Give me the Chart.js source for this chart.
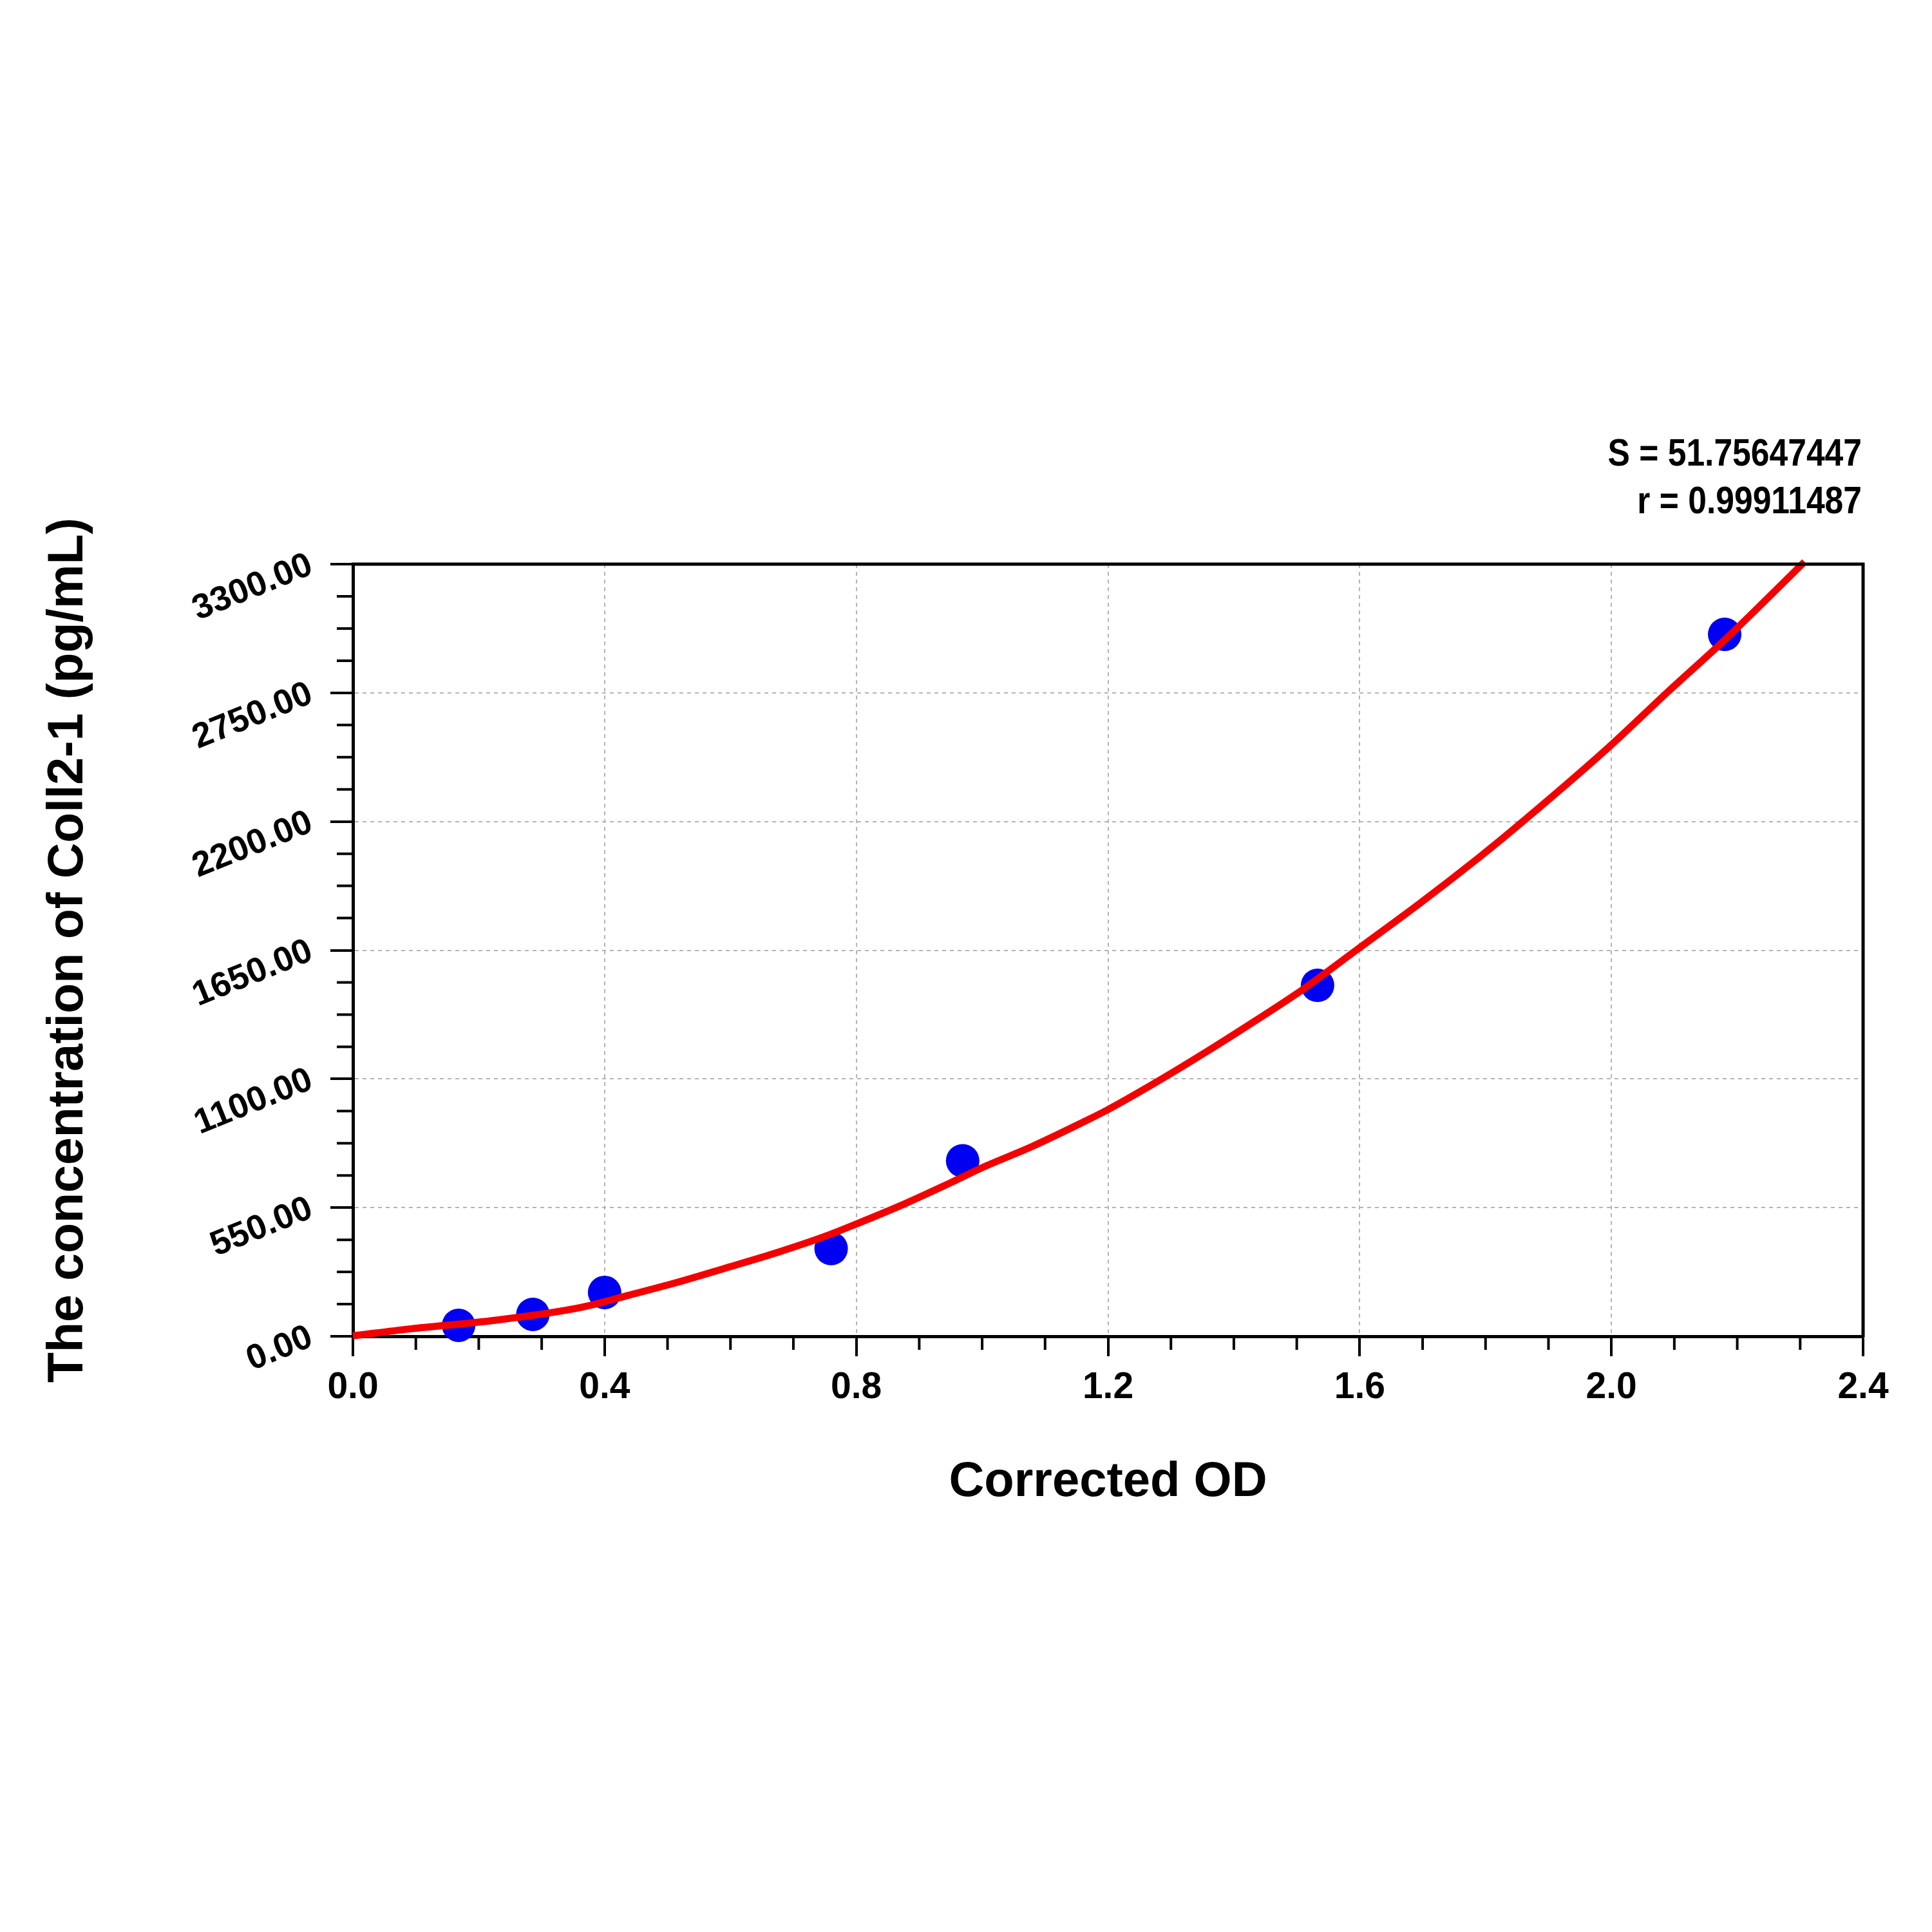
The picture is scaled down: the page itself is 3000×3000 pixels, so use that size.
<!DOCTYPE html>
<html>
<head>
<meta charset="utf-8">
<script src="https://cdn.jsdelivr.net/npm/chart.js@4.4.1/dist/chart.umd.min.js"></script>
<style>
  html, body { margin: 0; padding: 0; background: #fff; }
  #wrap { width: 3000px; height: 3000px; }
</style>
</head>
<body>
<div id="wrap"><canvas id="canvas" width="3000" height="3000"></canvas></div>
<script>
// standards (blue dots)
var stdOD   = [0.168, 0.286, 0.400, 0.760, 0.969, 1.533, 2.180];
var stdConc = [46.88, 93.75, 187.5, 375, 750, 1500, 3000];

// fitted curve
var fitOD   = [0.0, 0.092, 0.227, 0.360, 0.439, 0.517, 0.595, 0.674, 0.752, 0.800, 0.869, 0.948, 1.002, 1.080, 1.158, 1.198, 1.276, 1.354, 1.432, 1.510, 1.596, 1.695, 1.789, 1.837, 1.996, 2.090, 2.180, 2.307];
var fitConc = [2, 32, 69, 122, 176, 232, 294, 358, 429, 480, 557, 654, 723, 812, 912, 966, 1085, 1212, 1345, 1483, 1653, 1849, 2045, 2150, 2518, 2755, 2976, 3310];

// axes
var xMin = 0, xMax = 2.4, xMinorStep = 0.1, xMajorStep = 0.4;
var yMin = 0, yMax = 3300, yMinorStep = 137.5, yMajorStep = 550;

var statLines = ['S = 51.75647447', 'r = 0.99911487'];
var xTitle = 'Corrected OD';
var yTitle = 'The concentration of Coll2-1 (pg/mL)';

function isMajor(v, step){
    var q = v / step;
    return Math.abs(q - Math.round(q)) < 1e-6;
}

function toPoints(xs, ys){
    var pts = [];
    for(var i = 0; i < xs.length; i++){
        pts.push({x: xs[i], y: ys[i]});
    }
    return pts;
}

// frame, minor ticks and the S / r text
var framePlugin = {
    id: 'frame',
    afterDraw: function(chart){
        var ctx = chart.ctx, area = chart.chartArea;
        var xs = chart.scales.x, ys = chart.scales.y;
        ctx.save();
        ctx.strokeStyle = '#000';
        ctx.lineCap = 'butt';

        // top and right edges of the box
        ctx.lineWidth = 5;
        ctx.beginPath();
        ctx.moveTo(area.left - 2, area.top);
        ctx.lineTo(area.right, area.top);
        ctx.lineTo(area.right, area.bottom + 2);
        ctx.stroke();

        // minor ticks
        ctx.lineWidth = 4;
        ctx.beginPath();
        xs.ticks.forEach(function(t){
            if(isMajor(t.value, xMajorStep)) return;
            var px = xs.getPixelForValue(t.value);
            ctx.moveTo(px, area.bottom);
            ctx.lineTo(px, area.bottom + 21);
        });
        ys.ticks.forEach(function(t){
            if(isMajor(t.value, yMajorStep)) return;
            var py = ys.getPixelForValue(t.value);
            ctx.moveTo(area.left, py);
            ctx.lineTo(area.left - 25, py);
        });
        ctx.stroke();
        ctx.restore();

        // stats text, squeezed a little like the original narrow face
        ctx.save();
        ctx.fillStyle = '#000';
        ctx.textAlign = 'right';
        ctx.textBaseline = 'alphabetic';
        ctx.font = 'bold 60px "Liberation Sans", Arial, sans-serif';
        ctx.translate(area.right - 2, area.top - 153);
        ctx.scale(0.86, 1);
        ctx.fillText(statLines[0], 0, 0);
        ctx.fillText(statLines[1], 0, 74);
        ctx.restore();
    }
};

var canvasCxt = document.getElementById('canvas').getContext('2d');

var chart = new Chart(canvasCxt, {
    type: 'scatter',
    data: {
        datasets: [{
            label: 'fit',
            data: toPoints(fitOD, fitConc),
            showLine: true,
            borderColor: '#f40000',
            borderWidth: 11,
            pointRadius: 0,
            cubicInterpolationMode: 'monotone',
            clip: 20,
            order: 0
        }, {
            label: 'standards',
            data: toPoints(stdOD, stdConc),
            showLine: false,
            backgroundColor: '#0000f2',
            borderWidth: 0,
            pointRadius: 26,
            clip: 30,
            order: 1
        }]
    },
    options: {
        responsive: false,
        devicePixelRatio: 1,
        animation: false,
        layout: { padding: { top: 876, right: 107, bottom: 600, left: 0 } },
        plugins: {
            legend: { display: false },
            tooltip: { enabled: false }
        },
        scales: {
            x: {
                type: 'linear',
                min: xMin,
                max: xMax,
                afterFit: function(scale){ scale.height = 325; },
                border: { display: true, color: '#000', width: 5, dash: [6, 6] },
                grid: {
                    color: function(c){ return (c.tick && isMajor(c.tick.value, xMajorStep)) ? '#b4b4b4' : 'rgba(0,0,0,0)'; },
                    lineWidth: 2,
                    tickColor: function(c){ return (c.tick && isMajor(c.tick.value, xMajorStep)) ? '#000' : 'rgba(0,0,0,0)'; },
                    tickWidth: 4,
                    tickLength: 31,
                    tickBorderDash: []
                },
                ticks: {
                    stepSize: xMinorStep,
                    autoSkip: false,
                    maxRotation: 0,
                    minRotation: 0,
                    padding: 15,
                    color: '#000',
                    font: { family: '"Liberation Sans", Arial, sans-serif', size: 57, weight: 'bold' },
                    callback: function(v){ return isMajor(v, xMajorStep) ? v.toFixed(1) : ''; }
                },
                title: {
                    display: true,
                    text: xTitle,
                    color: '#000',
                    font: { family: '"Liberation Sans", Arial, sans-serif', size: 76, weight: 'bold' },
                    padding: { top: 0, bottom: 52 }
                }
            },
            y: {
                type: 'linear',
                min: yMin,
                max: yMax,
                afterFit: function(scale){ scale.width = 548; },
                border: { display: true, color: '#000', width: 5, dash: [6, 6] },
                grid: {
                    color: function(c){ return (c.tick && isMajor(c.tick.value, yMajorStep)) ? '#b4b4b4' : 'rgba(0,0,0,0)'; },
                    lineWidth: 2,
                    tickColor: function(c){ return (c.tick && isMajor(c.tick.value, yMajorStep)) ? '#000' : 'rgba(0,0,0,0)'; },
                    tickWidth: 4,
                    tickLength: 35,
                    tickBorderDash: []
                },
                ticks: {
                    stepSize: yMinorStep,
                    autoSkip: false,
                    minRotation: 22,
                    maxRotation: 22,
                    padding: 30,
                    color: '#000',
                    font: { family: '"Liberation Sans", Arial, sans-serif', size: 54, weight: 'bold' },
                    callback: function(v){ return isMajor(v, yMajorStep) ? v.toFixed(2) : ''; }
                },
                title: {
                    display: true,
                    text: yTitle,
                    color: '#000',
                    font: { family: '"Liberation Sans", Arial, sans-serif', size: 77, weight: 'bold' },
                    padding: { top: 61, bottom: 0 }
                }
            }
        }
    },
    plugins: [framePlugin]
});
</script>
</body>
</html>
